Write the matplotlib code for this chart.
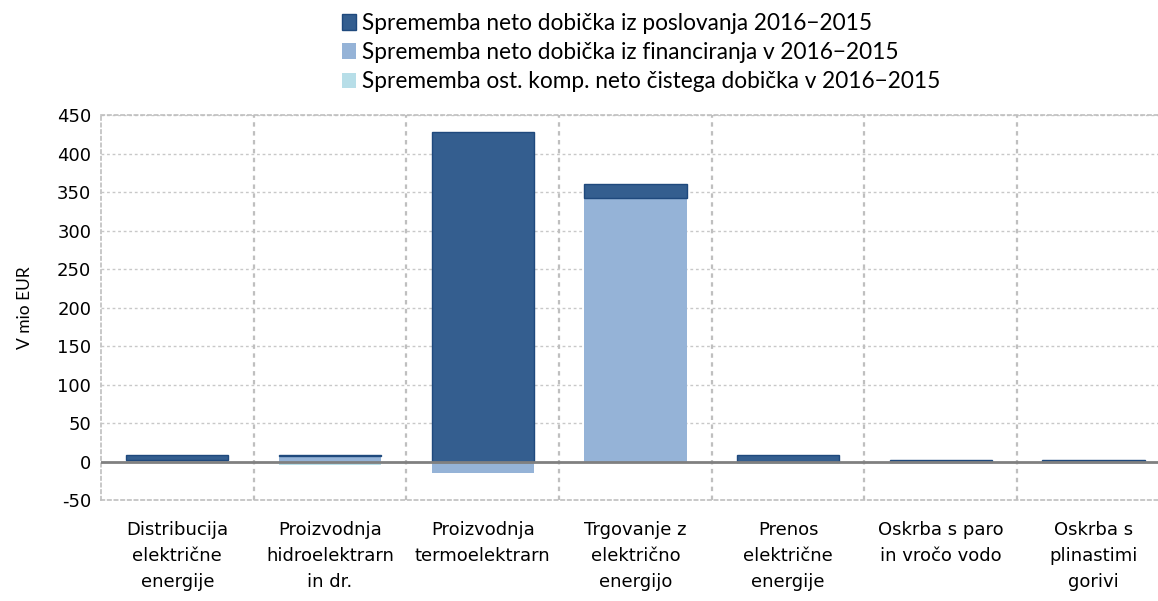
import matplotlib
matplotlib.use("Agg")
import matplotlib.pyplot as plt
import numpy as np

plt.rcParams['font.family'] = ['DejaVu Sans']

categories = ["Distribucija\nelektrične\nenergije", "Proizvodnja\nhidroelektrarn\nin dr.",
              "Proizvodnja\ntermoelektrarn", "Trgovanje z\nelektrično\nenergijo",
              "Prenos\nelektrične\nenergije", "Oskrba s paro\nin vročo vodo", "Oskrba s\nplinastimi\ngorivi"]
series_names = ["Sprememba neto dobička iz poslovanja 2016\u22122015",
                "Sprememba neto dobička iz financiranja v 2016\u22122015",
                "Sprememba ost. komp. neto čistega dobička v 2016\u22122015"]
poslovanje = [7, 2, 428, 18, 9, 2, 2]
financiranje = [2, 7, -15, 342, 0, -1.5, -1.5]
ostalo = [-0.5, -4, -0.5, -1.5, -3.5, -0.5, -0.5]
yticks = [-50, 0, 50, 100, 150, 200, 250, 300, 350, 400, 450]

c_dark = "#345E8F"
c_mid = "#95B3D7"
c_light = "#B7DEE8"

fig = plt.figure(figsize=(11.58, 6.01), dpi=100)
ax = fig.add_axes([0.0872, 0.168, 0.923, 0.6406])

x = np.arange(len(categories))
w = 0.67
pos_base = np.zeros(len(x))
neg_base = np.zeros(len(x))
handles = {}
order = [(financiranje, c_mid, 1, None), (poslovanje, c_dark, 0, "#1F497D"), (ostalo, c_light, 2, None)]
for vals, col, idx, ec in order:
    vals = np.array(vals, dtype=float)
    bottoms = np.where(vals >= 0, pos_base, neg_base)
    b = ax.bar(x, vals, w, bottom=bottoms, color=col, edgecolor=ec if ec else col,
               linewidth=1.0 if ec else 0, zorder=3)
    handles[idx] = b
    pos_base = pos_base + np.where(vals >= 0, vals, 0)
    neg_base = neg_base + np.where(vals < 0, vals, 0)

ax.axhline(0, color="#808080", linewidth=2, zorder=4)
ax.set_xlim(-0.5, len(categories) - 0.5)
ax.set_ylim(-50, 450)
ax.set_yticks(yticks)
ax.set_yticklabels([str(t) for t in yticks], fontsize=13)
ax.set_xticks(x)
ax.set_xticklabels(categories, fontsize=13, linespacing=1.58)
ax.tick_params(axis='both', length=0)
ax.tick_params(axis='y', pad=7)
ax.tick_params(axis='x', pad=15)

for t in yticks:
    if t not in (0, -50):
        ax.axhline(t, color="#C8C8C8", linewidth=1, linestyle=(0, (2, 2)), zorder=1)
for i in range(1, len(categories)):
    ax.axvline(i - 0.5, color="#BFBFBF", linewidth=1.6, linestyle=(0, (2, 2)), zorder=1)
for s in ax.spines.values():
    s.set_color("#BFBFBF")
    s.set_linestyle((0, (2, 2)))
    s.set_linewidth(1.2)

ax.set_ylabel("V mio EUR", fontsize=12.5, family=['Lato', 'DejaVu Sans'])
ax.yaxis.set_label_coords(-0.064, 0.5)

leg = fig.legend([handles[0], handles[1], handles[2]], series_names, loc="upper left",
                 bbox_to_anchor=(0.278, 1.012), frameon=False,
                 prop={'family': ['Lato', 'DejaVu Sans'], 'size': 16.3},
                 handlelength=0.6, handleheight=0.7, handletextpad=0.25, labelspacing=0.36)

fig.savefig("out.png", dpi=100)
